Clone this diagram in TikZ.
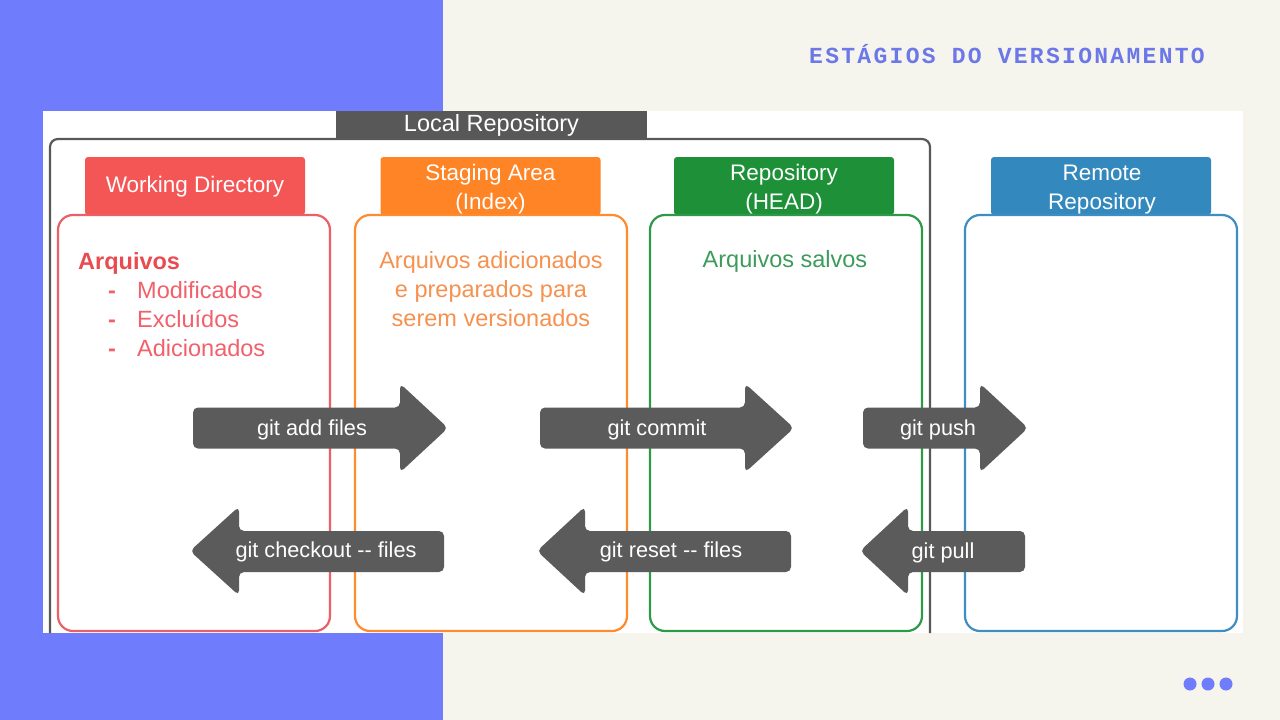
\documentclass[tikz,border=0pt]{standalone}
\usepackage{fontspec}
\setmainfont{Liberation Sans}
\newfontfamily\titlefont[LetterSpace=10]{Liberation Mono}
\usepackage{tikz}
\usetikzlibrary{positioning}

\definecolor{bgpurple}{HTML}{6F7CFB}
\definecolor{bgcream}{HTML}{F5F5EE}
\definecolor{titlepurple}{HTML}{6C78E8}
\definecolor{localgray}{HTML}{585858}
\definecolor{arrowgray}{HTML}{5B5B5B}
\definecolor{wdred}{HTML}{F45656}
\definecolor{wdline}{HTML}{EB5F66}
\definecolor{wdtext}{HTML}{E94C50}
\definecolor{wdlist}{HTML}{F2606B}
\definecolor{saorange}{HTML}{FF8425}
\definecolor{saline}{HTML}{FF8B2E}
\definecolor{satext}{HTML}{F6914F}
\definecolor{rpgreen}{HTML}{1D9038}
\definecolor{rpline}{HTML}{2C9A48}
\definecolor{rptext}{HTML}{3D9B5C}
\definecolor{rmblue}{HTML}{3389BE}
\definecolor{rmline}{HTML}{3E8EC1}

\begin{document}
\begin{tikzpicture}[x=1pt, y=-1pt,
  hdr/.style={minimum width=220pt, minimum height=58pt, rounded corners=3pt, inner sep=0pt},
  hdrtext/.style={text=white, align=center, inner sep=0pt, anchor=base, font=\fontsize{22.5}{29}\selectfont},
  stagebox/.style={draw, line width=2.2pt, rounded corners=15pt, fill=white,
    minimum width=272pt, minimum height=416pt},
  body/.style={inner sep=0pt, font=\fontsize{23.5}{29}\selectfont},
  cmd/.style={fill=arrowgray, rounded corners=5pt},
  cmdtext/.style={text=white, inner sep=0pt, font=\fontsize{21.7}{26}\selectfont}]
  \useasboundingbox (0,0) rectangle (1280,720);
  \fill[bgcream] (0,0) rectangle (1280,720);
  \fill[bgpurple] (0,0) rectangle (443,720);
  \fill[white] (43,111) rectangle (1243,633);

  \node[text=titlepurple, font=\titlefont\bfseries\fontsize{23}{28}\selectfont] (title) at (1007,54) {ESTÁGIOS DO VERSIONAMENTO};

  % local repository frame
  \draw[localgray, line width=2.2pt, rounded corners=8pt] (50,633) -- (50,139) -- (930,139) -- (930,633);
  \node[fill=localgray, text=white, minimum width=311pt, minimum height=28pt, inner sep=0pt,
    font=\fontsize{23.5}{28}\selectfont] (localrepo) at (491.5,125) {Local Repository};

  % stages
  \node[hdr, fill=wdred] (wdhead) at (195,186) {};
  \node[hdrtext] (wdtitle) at (195,192) {Working Directory};
  \node[stagebox, draw=wdline] (wd) at (194,423) {};
  \node[hdr, fill=saorange] (sahead) at (490.5,186) {};
  \node[hdrtext] (satitle) at (490.5,209) {Staging Area\\(Index)};
  \node[stagebox, draw=saline] (sa) at (491,423) {};
  \node[hdr, fill=rpgreen] (rphead) at (784,186) {};
  \node[hdrtext] (rptitle) at (784,209) {Repository\\(HEAD)};
  \node[stagebox, draw=rpline] (rp) at (786,423) {};
  \node[hdr, fill=rmblue] (rmhead) at (1101,186) {};
  \node[hdrtext] (rmtitle) at (1102,209) {Remote\\Repository};
  \node[stagebox, draw=rmline] (rm) at (1101,423) {};

  % texts
  \node[body, anchor=base west, text=wdtext, font=\fontsize{23.5}{29}\selectfont\bfseries] (arq) at (78,269) {Arquivos};
  \node[body, anchor=base west, text=wdlist] (mod) at (108,298) {\makebox[29pt][l]{\textbf{-}}Modificados};
  \node[body, anchor=base west, text=wdlist] (exc) at (108,327) {\makebox[29pt][l]{\textbf{-}}Excluídos};
  \node[body, anchor=base west, text=wdlist] (adi) at (108,356) {\makebox[29pt][l]{\textbf{-}}Adicionados};
  \node[body, anchor=base, text=satext, align=center] (satxt) at (491,326) {Arquivos adicionados\\e preparados para\\serem versionados};
  \node[body, anchor=base, text=rptext] (rptxt) at (785,267) {Arquivos salvos};

  % commands
  \fill[cmd] (193,407.5) -- (400,407.5) -- (400,383.5) -- (448,428) -- (400,472.5) -- (400,448.5) -- (193,448.5) -- cycle;
  \node[cmdtext] (add) at (312,429.5) {git add files};
  \fill[cmd] (540,407.5) -- (745,407.5) -- (745,383.5) -- (794,428) -- (745,472.5) -- (745,448.5) -- (540,448.5) -- cycle;
  \node[cmdtext] (commit) at (657,429.5) {git commit};
  \fill[cmd] (863,407.5) -- (980,407.5) -- (980,383.5) -- (1028,428) -- (980,472.5) -- (980,448.5) -- (863,448.5) -- cycle;
  \node[cmdtext] (push) at (938,429.5) {git push};

  \fill[cmd] (444,531) -- (239,531) -- (239,506.5) -- (190,551) -- (239,595.5) -- (239,572) -- (444,572) -- cycle;
  \node[cmdtext] (checkout) at (326,552) {git checkout -{}- files};
  \fill[cmd] (791,531) -- (585,531) -- (585,506.5) -- (537,551) -- (585,595.5) -- (585,572) -- (791,572) -- cycle;
  \node[cmdtext] (reset) at (671,552) {git reset -{}- files};
  \fill[cmd] (1025,531) -- (908,531) -- (908,506.5) -- (860,551) -- (908,595.5) -- (908,572) -- (1025,572) -- cycle;
  \node[cmdtext] (pull) at (943,553) {git pull};

  % dots
  \fill[bgpurple] (1190,684) circle[radius=6.5pt];
  \fill[bgpurple] (1208,684) circle[radius=6.5pt];
  \fill[bgpurple] (1226,684) circle[radius=6.5pt];
\end{tikzpicture}
\end{document}
